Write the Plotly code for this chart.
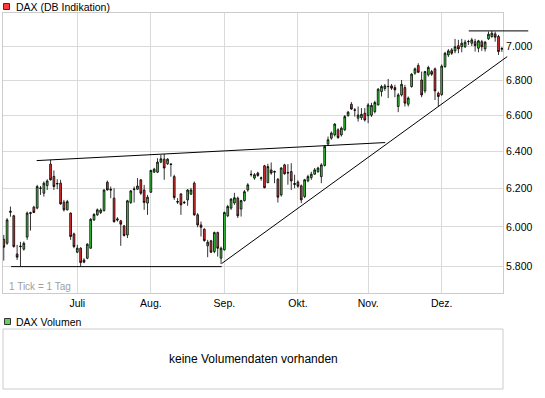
import numpy as np
import pandas as pd
import plotly.graph_objects as go

# ---------------- data (DAX daily candles) ----------------
start_date = "2010-06-01"

opens = [5937, 5917, 6075, 6057, 5863, 5903, 5887, 5948, 6069, 6102,
         6097, 6200, 6175, 6215, 6330, 6264, 6224, 6228, 6128, 6088,
         6071, 5964, 5872, 5892, 5833, 5842, 5892, 6036, 6062, 6074,
         6084, 6233, 6196, 6149, 6035, 6031, 6005, 5959, 6126, 6194,
         6196, 6246, 6192, 6123, 6180, 6287, 6287, 6341, 6357, 6332,
         6331, 6263, 6128, 6171, 6127, 6140, 6170, 6228, 6062, 6010,
         5988, 5904, 5929, 5875, 5971, 5842, 5884, 6057, 6097, 6124,
         6149, 6092, 6136, 6192, 6273, 6255, 6282, 6254, 6321, 6231,
         6299, 6287, 6249, 6166, 6326, 6285, 6290, 6221, 6234, 6214,
         6157, 6240, 6258, 6276, 6290, 6263, 6323, 6439, 6472, 6490,
         6518, 6490, 6518, 6597, 6662, 6630, 6583, 6586, 6611, 6597,
         6600, 6620, 6658, 6734, 6752, 6764, 6767, 6757, 6649, 6715,
         6757, 6662, 6763, 6841, 6885, 6801, 6738, 6831, 6850, 6866,
         6725, 6717, 6879, 6948, 6978, 6972, 7003, 6997, 6997, 7027,
         7018, 7027, 6988, 7027, 6984, 7044, 7058, 7074, 7058, 6982]

highs = [5959, 6045, 6105, 6062, 5909, 5924, 5926, 6079, 6078, 6109,
         6219, 6213, 6237, 6249, 6353, 6296, 6249, 6246, 6140, 6140,
         6074, 5971, 5909, 5897, 5842, 5917, 6045, 6071, 6095, 6096,
         6196, 6242, 6210, 6201, 6050, 6036, 6010, 6140, 6192, 6210,
         6255, 6249, 6219, 6166, 6300, 6310, 6362, 6380, 6385, 6362,
         6335, 6273, 6149, 6175, 6135, 6196, 6203, 6237, 6071, 6027,
         5993, 5934, 5934, 5976, 5976, 5900, 6079, 6114, 6149, 6177,
         6157, 6140, 6192, 6228, 6296, 6282, 6289, 6263, 6326, 6332,
         6339, 6295, 6255, 6314, 6332, 6330, 6335, 6273, 6243, 6221,
         6251, 6273, 6289, 6309, 6316, 6335, 6431, 6481, 6509, 6555,
         6527, 6536, 6601, 6624, 6674, 6640, 6649, 6640, 6640, 6668,
         6670, 6682, 6754, 6773, 6778, 6807, 6778, 6773, 6725, 6801,
         6773, 6706, 6841, 6874, 6899, 6850, 6854, 6884, 6860, 6874,
         6734, 6892, 6966, 6983, 6989, 7044, 7038, 7044, 7038, 7038,
         7050, 7044, 7038, 7038, 7032, 7088, 7092, 7088, 7068, 6995]

lows = [5830, 5909, 6052, 5895, 5833, 5803, 5880, 5934, 5981, 6071,
        6091, 6166, 6157, 6192, 6242, 6192, 6196, 6114, 6079, 6085,
        5934, 5892, 5867, 5800, 5817, 5837, 5889, 6031, 6057, 6066,
        6079, 6189, 6149, 6022, 6027, 5904, 5951, 5943, 6119, 6126,
        6192, 6166, 6088, 6062, 6177, 6283, 6282, 6335, 6246, 6326,
        6263, 6140, 6119, 6062, 6119, 6109, 6166, 6057, 5998, 5951,
        5925, 5847, 5867, 5867, 5850, 5813, 5880, 6050, 6088, 6114,
        6046, 6053, 6131, 6183, 6263, 6246, 6262, 6241, 6201, 6228,
        6273, 6228, 6126, 6157, 6273, 6220, 6192, 6201, 6203, 6123,
        6149, 6233, 6246, 6273, 6283, 6228, 6317, 6431, 6463, 6481,
        6468, 6481, 6512, 6592, 6630, 6592, 6564, 6573, 6564, 6555,
        6590, 6610, 6655, 6706, 6738, 6697, 6744, 6702, 6617, 6706,
        6649, 6649, 6757, 6831, 6841, 6702, 6725, 6821, 6825, 6686,
        6649, 6710, 6872, 6936, 6948, 6958, 6958, 6964, 6989, 7007,
        7001, 6968, 6964, 6972, 6968, 7038, 7050, 7027, 6948, 6966]

closes = [5897, 6036, 6080, 5900, 5847, 5900, 5917, 6071, 6073, 6074,
          6210, 6202, 6228, 6240, 6246, 6210, 6226, 6119, 6088, 6131,
          5951, 5900, 5892, 5820, 5822, 5912, 6039, 6064, 6088, 6087,
          6192, 6192, 6192, 6027, 6040, 6014, 5956, 6135, 6187, 6197,
          6213, 6175, 6126, 6154, 6296, 6303, 6341, 6359, 6309, 6357,
          6328, 6152, 6131, 6114, 6125, 6192, 6192, 6062, 6010, 5998,
          5930, 5922, 5872, 5971, 5892, 5892, 6074, 6105, 6144, 6151,
          6057, 6136, 6183, 6219, 6275, 6273, 6269, 6256, 6204, 6317,
          6282, 6290, 6154, 6309, 6278, 6283, 6240, 6226, 6212, 6140,
          6246, 6263, 6276, 6299, 6309, 6326, 6426, 6463, 6500, 6550,
          6475, 6527, 6592, 6617, 6635, 6628, 6601, 6605, 6573, 6658,
          6655, 6672, 6748, 6763, 6767, 6763, 6754, 6744, 6715, 6776,
          6668, 6697, 6835, 6866, 6846, 6715, 6850, 6874, 6835, 6738,
          6706, 6882, 6958, 6972, 6958, 6997, 6984, 7018, 7024, 7028,
          7038, 7003, 7032, 6997, 7024, 7072, 7078, 7054, 6968, 6986]

y_tick_values = [5800, 6000, 6200, 6400, 6600, 6800, 7000]
y_tick_labels = ["5.800", "6.000", "6.200", "6.400", "6.600", "6.800", "7.000"]
month_labels = {6: "", 7: "Juli", 8: "Aug.", 9: "Sep.", 10: "Okt.", 11: "Nov.", 12: "Dez."}

# drawn chart lines: anchors are candle indexes, spans are in trading-day index units
support_span = [2.2, 65.2]
resistance_anchors = [14, 48]
resistance_span = [9.85, 114.1]
uptrend_anchors = [65, 130]
uptrend_span = [65.2, 150.6]
top_span = [139.1, 156.9]

# ---------------- styling ----------------
UP = "#3ad63a"
DOWN = "#ec3434"
GRID = "#dadada"
BORDER = "#cccccc"
FONT = "Liberation Sans, Arial, sans-serif"

# pixel geometry of the page (layout only)
W_FIG, H_FIG = 545, 398
M_L, M_R, M_T, M_B = 3, 0, 13, 9
PW = W_FIG - M_L - M_R
PH = H_FIG - M_T - M_B
MAIN_RIGHT = 503
MAIN_BOTTOM = 293
VOL_TOP = 329


def px_x(px):
    return (px - M_L) / PW


def px_y(py):
    return (H_FIG - M_B - py) / PH


main_frac = px_x(MAIN_RIGHT)
main_y0 = px_y(MAIN_BOTTOM)
vol_y1 = px_y(VOL_TOP)

dates = pd.bdate_range(start_date, periods=len(closes))
idx = np.arange(len(closes))
month_start_idx = [int(i) for i in idx if i == 0 or dates[i].month != dates[i - 1].month]
month_text = [month_labels[dates[i].month] for i in month_start_idx]

# x range: one trading day ~3.343 px, first candle ~0.75 px inside the frame
step_px = 3.343
x0 = -0.75 / step_px
x1 = x0 + (MAIN_RIGHT - M_L) / step_px
x1_full = x0 + PW / step_px
y_range = [3.75366, 3.85740]

fig = go.Figure()
fig.add_trace(go.Candlestick(
    x=idx, open=opens, high=highs, low=lows, close=closes,
    increasing=dict(fillcolor=UP, line=dict(color="black", width=0.8)),
    decreasing=dict(fillcolor=DOWN, line=dict(color="black", width=0.8)),
    whiskerwidth=0, hoverinfo="skip", showlegend=False,
    xaxis="x", yaxis="y",
))


def log_line(i0, p0, i1, p1, span):
    k = (np.log10(p1) - np.log10(p0)) / (i1 - i0)
    return [10 ** (np.log10(p0) + k * (s - i0)) for s in span]


support_level = min(lows[:int(np.ceil(support_span[1]))])
top_level = max(highs)
ra, rb = resistance_anchors
ua, ub = uptrend_anchors
lines = [
    (support_span, [support_level, support_level]),
    (resistance_span, log_line(ra, highs[ra], rb, highs[rb], resistance_span)),
    (uptrend_span, log_line(ua, lows[ua], ub, lows[ub], uptrend_span)),
    (top_span, [top_level, top_level]),
]
for xs, ys in lines:
    fig.add_trace(go.Scatter(x=xs, y=ys, mode="lines",
                             line=dict(color="black", width=1),
                             hoverinfo="skip", showlegend=False,
                             xaxis="x3", yaxis="y3"))

fig.update_layout(
    width=W_FIG, height=H_FIG,
    margin=dict(l=M_L, r=M_R, t=M_T, b=M_B),
    paper_bgcolor="white", plot_bgcolor="rgba(0,0,0,0)",
    showlegend=False, hovermode=False,
    separators=",.",
    boxgap=0.25,
    font=dict(family=FONT, size=10.5, color="black"),
    xaxis=dict(domain=[0, main_frac], range=[x0, x1], anchor="y",
               tickmode="array", tickvals=month_start_idx, ticktext=month_text,
               showgrid=True, gridcolor=GRID, gridwidth=1, zeroline=False,
               showline=True, linecolor=BORDER, linewidth=1, mirror=True,
               ticks="", rangeslider=dict(visible=False), fixedrange=True,
               tickfont=dict(size=10.5, color="black")),
    yaxis=dict(domain=[main_y0, 1], type="log", range=y_range, anchor="x",
               side="right", tickmode="array", tickvals=y_tick_values,
               ticktext=y_tick_labels, showgrid=True, gridcolor=GRID,
               gridwidth=1, zeroline=False, showline=True, linecolor=BORDER,
               linewidth=1, mirror=True, ticks="", fixedrange=True,
               tickfont=dict(size=10.5, color="black")),
    xaxis3=dict(domain=[0, 1], range=[x0, x1_full], anchor="y3", visible=False,
                fixedrange=True),
    yaxis3=dict(domain=[main_y0, 1], type="log", range=y_range, anchor="x3",
                visible=False, fixedrange=True),
)

shapes = [
    # volume panel frame
    dict(type="rect", xref="paper", yref="paper", x0=0, x1=main_frac, y0=0, y1=vol_y1,
         line=dict(color=BORDER, width=1), fillcolor="rgba(0,0,0,0)", layer="above"),
    # legend squares
    dict(type="rect", xref="paper", yref="paper", x0=px_x(3.5), x1=px_x(9.5),
         y0=px_y(9.5), y1=px_y(3.5), line=dict(color="#333333", width=1),
         fillcolor="#ff3b3b"),
    dict(type="rect", xref="paper", yref="paper", x0=px_x(4.5), x1=px_x(10.5),
         y0=px_y(324.5), y1=px_y(318.5), line=dict(color="#333333", width=1),
         fillcolor="#66cc66"),
]
fig.update_layout(shapes=shapes)

annotations = [
    dict(text="DAX (DB Indikation)", x=px_x(14), y=px_y(6.5), xref="paper", yref="paper",
         xanchor="left", yanchor="middle", showarrow=False,
         font=dict(size=10.5, color="black", family=FONT)),
    dict(text="DAX Volumen", x=px_x(14), y=px_y(321.5), xref="paper", yref="paper",
         xanchor="left", yanchor="middle", showarrow=False,
         font=dict(size=10.5, color="black", family=FONT)),
    dict(text="1 Tick = 1 Tag", x=px_x(7), y=px_y(286.5), xref="paper", yref="paper",
         xanchor="left", yanchor="middle", showarrow=False,
         font=dict(size=10, color="#a0a0a0", family=FONT)),
    dict(text="keine Volumendaten vorhanden", x=px_x(253), y=px_y(358.5),
         xref="paper", yref="paper", xanchor="center", yanchor="middle",
         showarrow=False, font=dict(size=12, color="black", family=FONT)),
]
fig.update_layout(annotations=annotations)

# the page body must not add the browser's default 8px margin
fig.write_html("out.html",
               config={"displayModeBar": False, "staticPlot": True},
               post_script="document.body.style.margin='0px';document.body.style.padding='0px';")
